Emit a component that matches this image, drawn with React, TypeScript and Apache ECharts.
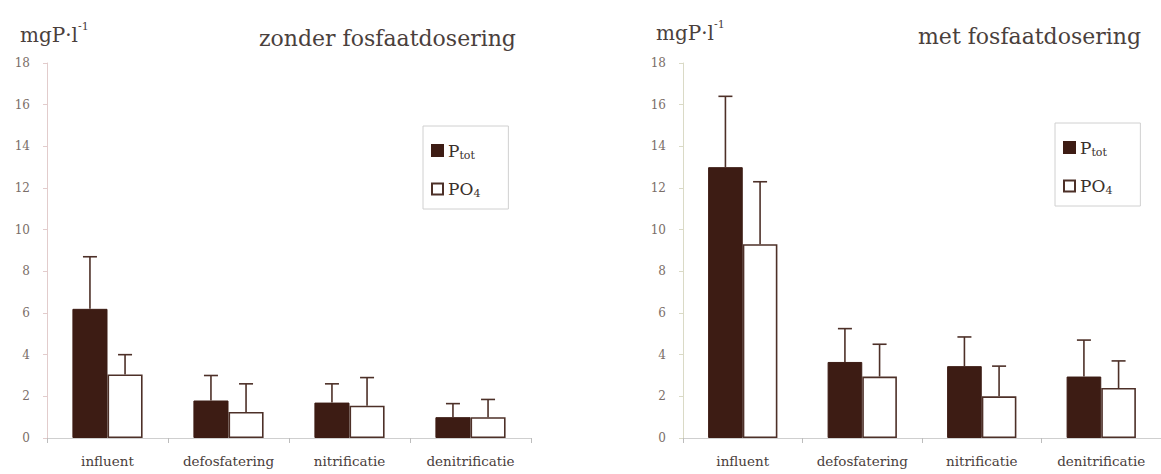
import React, { useEffect, useRef } from "react";
import * as echarts from "echarts";

const categories = ["influent", "defosfatering", "nitrificatie", "denitrificatie"];
const yTicks = [0, 2, 4, 6, 8, 10, 12, 14, 16, 18];

// zonder fosfaatdosering
const leftPtot = [6.2, 1.8, 1.7, 1.0];
const leftPtotSd = [2.5, 1.2, 0.9, 0.65];
const leftPO4 = [3.05, 1.25, 1.55, 1.0];
const leftPO4Sd = [0.95, 1.35, 1.35, 0.85];

// met fosfaatdosering
const rightPtot = [13.0, 3.65, 3.45, 2.95];
const rightPtotSd = [3.4, 1.6, 1.4, 1.75];
const rightPO4 = [9.3, 2.95, 2.0, 2.4];
const rightPO4Sd = [3.0, 1.55, 1.45, 1.3];

const titles = ["zonder fosfaatdosering", "met fosfaatdosering"];
const unitLabel = "mgP·l";
const unitSup = "-1";

const FONT = "DejaVu Serif";
const DARK = "#3d1c14";
const LINE = "#4d3028";
const CAT_GAP = 0.42;

export default function App() {
  const ref = useRef<HTMLDivElement>(null);
  useEffect(() => {
    const chart = echarts.init(ref.current!, null, { renderer: "svg" });

    const errRender = (params: any, api: any) => {
      const ci = api.value(0);
      const mean = api.value(1);
      const sd = api.value(2);
      const s = api.value(3);
      const band = api.size([1, 0])[0];
      const bw = (band * (1 - CAT_GAP)) / 2;
      const base = api.coord([ci, mean]);
      const top = api.coord([ci, mean + sd]);
      const cx = base[0] + (s === 0 ? -bw / 2 : bw / 2);
      const st = { stroke: LINE, lineWidth: 1.6 };
      return {
        type: "group",
        children: [
          { type: "line", shape: { x1: cx, y1: base[1], x2: cx, y2: top[1] }, style: st },
          { type: "line", shape: { x1: cx - 7, y1: top[1], x2: cx + 7, y2: top[1] }, style: st },
        ],
      };
    };

    const errData = (means: number[], sds: number[], s: number) =>
      means.map((m, i) => [i, m, sds[i], s]);

    const yAxisCfg = (gi: number, color: string) => ({
      type: "value",
      gridIndex: gi,
      min: 0,
      max: 18,
      interval: 2,
      splitLine: { show: false },
      axisLine: { show: true, lineStyle: { color, width: 1 } },
      axisTick: { show: true, length: 4, lineStyle: { color } },
      axisLabel: {
        margin: 17,
        fontFamily: FONT,
        fontSize: 12,
        color: "#7a6e68",
        formatter: (v: number) => (yTicks.includes(v) ? String(v) : ""),
      },
    });

    const xAxisCfg = (gi: number) => ({
      type: "category",
      gridIndex: gi,
      data: categories,
      axisLine: { show: true, lineStyle: { color: "#cfcfcf", width: 1 } },
      axisTick: { show: true, length: 5, interval: 0, lineStyle: { color: "#bdbdbd" } },
      axisLabel: { interval: 0, margin: 16, fontFamily: FONT, fontSize: 13.5, color: "#4a403c" },
    });

    const barSeries = (name: string, gi: number, data: number[], filled: boolean) => ({
      type: "bar",
      name,
      xAxisIndex: gi,
      yAxisIndex: gi,
      data,
      barGap: "0%",
      barCategoryGap: CAT_GAP * 100 + "%",
      itemStyle: filled
        ? { color: DARK, borderColor: DARK, borderWidth: 1 }
        : { color: "#ffffff", borderColor: LINE, borderWidth: 1.6 },
    });

    const errSeries = (gi: number, data: any[]) => ({
      type: "custom",
      name: "err" + gi,
      xAxisIndex: gi,
      yAxisIndex: gi,
      renderItem: errRender,
      encode: { x: 0, y: 1 },
      data,
      z: 5,
    });

    const legendFmt = (n: string) => (n === "Ptot" ? "{b|P}{s|tot}" : "{b|PO}{s|4}");
    const legendCfg = (left: number, top: number) => ({
      left,
      top,
      orient: "vertical",
      data: ["Ptot", "PO4"],
      icon: "rect",
      itemWidth: 11,
      itemHeight: 11,
      itemGap: 20,
      padding: [16, 28, 10, 8],
      borderColor: "#d0d0d0",
      borderWidth: 1,
      selectedMode: false,
      formatter: legendFmt,
      textStyle: {
        rich: {
          b: { fontFamily: FONT, fontSize: 17, color: "#3a302c", lineHeight: 20, verticalAlign: "middle" },
          s: { fontFamily: FONT, fontSize: 11, color: "#3a302c", lineHeight: 10, verticalAlign: "bottom" },
        },
      },
    });

    const unitText = (x: number, y: number) => ({
      type: "text",
      x,
      y,
      style: {
        text: "{a|" + unitLabel + "}{s|" + unitSup + "}",
        rich: {
          a: { fontFamily: FONT, fontSize: 20, fill: "#4a403c", color: "#4a403c", lineHeight: 24, verticalAlign: "bottom" },
          s: { fontFamily: FONT, fontSize: 11, fill: "#4a403c", color: "#4a403c", lineHeight: 12, verticalAlign: "top" },
        },
        verticalAlign: "middle",
        align: "left",
      },
    });

    const titleText = (x: number, y: number, t: string) => ({
      type: "text",
      x,
      y,
      style: {
        text: t,
        fontFamily: FONT,
        fontSize: 22,
        fill: "#4a403c",
        align: "left",
        verticalAlign: "middle",
      },
    });

    chart.setOption({
      animation: false,
      backgroundColor: "#ffffff",
      grid: [
        { left: 47, top: 63, width: 484, height: 375 },
        { left: 683, top: 63, width: 480, height: 375 },
      ],
      xAxis: [xAxisCfg(0), xAxisCfg(1)],
      yAxis: [yAxisCfg(0, "#e2cccc"), yAxisCfg(1, "#dadac6")],
      legend: [legendCfg(423, 126), legendCfg(1055, 123)],
      series: [
        barSeries("Ptot", 0, leftPtot, true),
        barSeries("PO4", 0, leftPO4, false),
        barSeries("Ptot", 1, rightPtot, true),
        barSeries("PO4", 1, rightPO4, false),
        errSeries(0, [...errData(leftPtot, leftPtotSd, 0), ...errData(leftPO4, leftPO4Sd, 1)]),
        errSeries(1, [...errData(rightPtot, rightPtotSd, 0), ...errData(rightPO4, rightPO4Sd, 1)]),
      ],
      graphic: [
        unitText(20, 33),
        titleText(259, 38, titles[0]),
        unitText(656, 31),
        titleText(918, 36, titles[1]),
      ],
    });
    return () => chart.dispose();
  }, []);

  return (
    <div
      ref={ref}
      style={{ position: "fixed", left: 0, top: 0, width: 1161, height: 474, background: "#fff" }}
    />
  );
}
